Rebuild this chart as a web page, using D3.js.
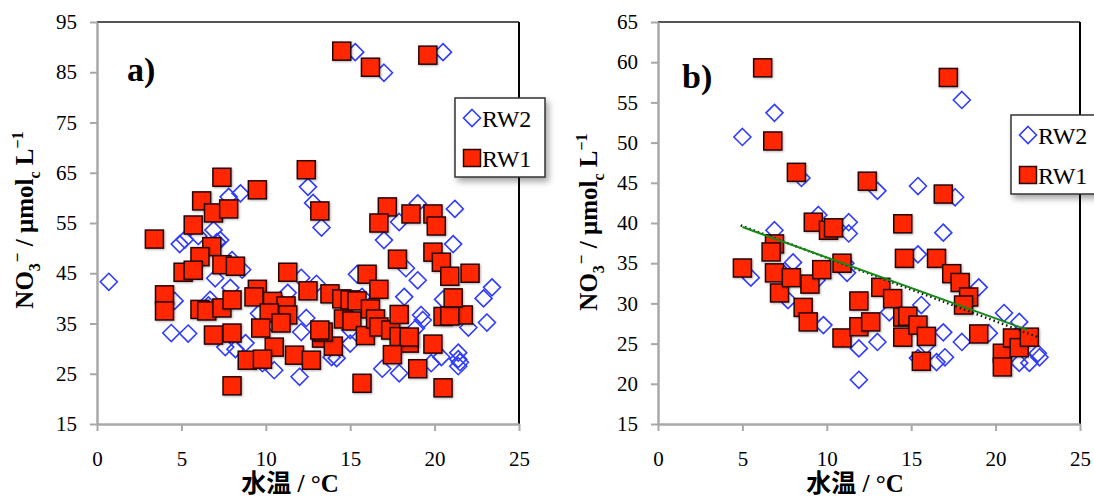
<!DOCTYPE html>
<html><head><meta charset="utf-8">
<script src="https://cdn.jsdelivr.net/npm/d3@7"></script>
<style>
body{margin:0;background:#fff;}
svg{display:block;}
</style></head>
<body>
<svg id="chart" width="1094" height="497"></svg>
<script>
// ---------- DATA ----------
const xTicks = [0, 5, 10, 15, 20, 25];
const yTicksA = [15, 25, 35, 45, 55, 65, 75, 85, 95];
const yTicksB = [15, 20, 25, 30, 35, 40, 45, 50, 55, 60, 65];
const seriesNames = ["RW2", "RW1"];
const panelLabels = ["a)", "b)"];

// Panel a) : [water temp °C, NO3- µmolc/L]
const aRW2 = [
 [15.3,89.0],[17.0,84.9],[20.5,89.0],[12.5,62.2],[12.8,59.0],[13.3,54.1],[8.5,60.9],[7.8,60.2],
 [19.0,58.9],[21.2,57.8],[17.9,55.2],[17.0,51.6],[21.1,50.8],[6.9,53.6],[7.3,51.6],[4.9,50.8],
 [5.2,51.7],[7.1,51.2],[8.0,47.6],[8.6,45.7],[0.7,43.3],[4.4,33.1],[5.4,33.0],[4.6,39.5],
 [7.0,44.0],[6.7,39.7],[7.6,30.3],[8.2,29.9],[8.8,31.1],[10.5,25.7],[12.0,24.4],[9.8,27.1],
 [12.1,33.3],[12.4,36.1],[11.3,41.1],[12.1,44.1],[13.0,42.9],[14.2,28.1],[13.9,28.3],[15.0,31.0],
 [15.0,33.7],[15.4,44.8],[15.7,40.3],[18.3,46.0],[19.0,43.6],[18.2,40.3],[19.2,36.7],[19.3,35.7],
 [18.9,34.1],[16.9,26.0],[17.9,25.1],[19.8,27.1],[20.4,28.3],[21.4,29.2],[21.4,26.5],[21.5,27.3],
 [21.4,27.9],[23.4,42.2],[22.9,40.0],[23.1,35.2],[22.0,34.2],[20.5,39.8],[10.4,35.1],[11.2,36.5],
 [7.9,42.1],[6.0,52.4],[6.6,38.6],[9.6,37.0]
];
const aRW1 = [
 [14.5,89.2],[16.2,86.0],[19.6,88.4],[7.4,64.1],[9.5,61.6],[6.2,59.4],[6.9,57.0],[7.8,57.8],
 [5.7,54.6],[3.4,51.8],[12.4,65.6],[13.2,57.4],[17.2,58.2],[16.7,55.0],[18.6,56.8],[19.9,56.8],
 [20.1,54.4],[19.9,49.2],[20.4,47.2],[17.8,47.8],[6.8,50.3],[6.1,48.3],[5.1,45.2],[5.7,45.6],
 [7.4,46.7],[8.2,46.4],[11.3,45.2],[16.0,44.8],[20.9,44.4],[22.1,45.0],[4.0,40.7],[4.0,37.5],
 [6.1,37.8],[6.5,37.5],[7.4,38.1],[8.0,39.7],[6.9,32.7],[8.0,33.1],[8.0,22.6],[12.5,41.5],
 [16.7,41.8],[13.8,40.9],[14.5,39.9],[9.5,41.8],[9.3,40.3],[10.4,39.4],[11.2,38.5],[11.3,36.7],
 [10.2,37.1],[10.9,35.1],[9.7,34.1],[10.5,30.3],[8.9,27.7],[9.8,27.9],[11.7,28.7],[12.7,27.7],
 [13.3,32.1],[14.0,30.5],[13.4,33.3],[13.2,33.7],[14.6,35.9],[15.1,35.5],[15.0,39.7],[15.4,39.5],
 [16.2,37.9],[15.9,32.6],[16.5,35.9],[16.7,34.3],[15.7,23.1],[17.4,33.7],[17.9,36.8],[17.9,32.4],
 [18.5,31.1],[18.5,32.3],[17.5,28.8],[19.0,26.0],[19.9,30.9],[20.5,22.2],[20.5,36.4],[21.7,36.7],
 [20.9,36.5],[21.1,40.1]
];

// Panel b)
const bRW2 = [
 [18.0,55.3],[6.9,53.7],[5.0,50.7],[8.5,45.6],[13.0,44.0],[15.4,44.6],[17.6,43.2],[11.3,40.1],
 [11.3,38.7],[9.5,41.0],[16.9,38.8],[6.9,39.1],[5.5,33.2],[8.0,35.1],[7.7,30.4],[9.8,27.3],
 [9.4,32.9],[11.2,33.8],[11.1,35.0],[11.9,24.4],[11.9,20.5],[13.0,25.2],[13.7,28.9],[15.4,36.1],
 [15.6,29.8],[15.4,23.2],[15.9,24.8],[16.5,22.7],[17.0,23.3],[16.9,26.4],[18.0,25.2],[19.0,32.0],
 [19.6,26.3],[20.5,28.8],[21.4,27.7],[21.4,22.6],[22.0,22.6],[22.5,23.8],[22.6,23.3],[7.4,33.8]
];
const bRW1 = [
 [6.2,59.3],[17.2,58.1],[6.8,50.2],[8.2,46.3],[12.4,45.2],[16.9,43.6],[9.2,40.1],[10.1,39.1],
 [10.4,39.4],[14.5,39.9],[5.0,34.4],[6.9,37.4],[6.7,36.4],[6.9,33.8],[7.2,31.3],[7.9,33.2],
 [9.0,32.4],[9.7,34.2],[10.9,35.0],[8.6,29.5],[8.9,27.7],[10.9,25.7],[11.9,30.3],[11.9,27.1],
 [12.6,27.7],[13.2,32.0],[13.9,30.6],[14.5,28.3],[14.8,28.4],[14.5,25.8],[15.4,27.3],[15.9,25.9],
 [15.6,22.8],[14.6,35.6],[16.5,35.6],[17.4,33.7],[17.9,32.6],[18.4,30.8],[18.1,29.8],[19.0,26.2],
 [20.4,23.8],[20.4,22.1],[21.0,25.7],[21.4,24.5],[22.0,25.8]
];
// Trend lines in panel b)
const trendSolid = [[5.0,39.5],[21.9,26.7]];
const trendDotted = [[4.9,39.7],[22.5,25.8]];

// ---------- DRAW ----------
const svg = d3.select("#chart");
const defs = svg.append("defs");
const f = defs.append("filter").attr("id","shadow").attr("x","-20%").attr("y","-20%").attr("width","150%").attr("height","160%");
f.append("feDropShadow").attr("dx",3).attr("dy",4).attr("stdDeviation",3).attr("flood-color","#000").attr("flood-opacity",0.35);
const fs = defs.append("filter").attr("id","sqshadow").attr("x","-30%").attr("y","-30%").attr("width","170%").attr("height","170%");
fs.append("feDropShadow").attr("dx",1).attr("dy",1).attr("stdDeviation",1).attr("flood-color","#000").attr("flood-opacity",0.3);

const RED = "#ff2600", BLUE = "#2f3cff";
const SERIF = "'Liberation Serif','Times New Roman',serif";
const SQ = 18, DI = 8.5;

function panel(opt){
  const g = svg.append("g");
  const x = d3.scaleLinear().domain([0,25]).range([opt.left, opt.right]);
  const y = d3.scaleLinear().domain(opt.yDomain).range([opt.bottom, opt.top]);

  // frame: top and right
  g.append("line").attr("x1",opt.left).attr("x2",opt.right).attr("y1",opt.top).attr("y2",opt.top)
    .attr("stroke","#555").attr("stroke-width",2);
  g.append("line").attr("x1",opt.right).attr("x2",opt.right).attr("y1",opt.top).attr("y2",opt.bottom)
    .attr("stroke","#000").attr("stroke-width",2);

  const ax = g.append("g").attr("transform",`translate(0,${opt.bottom})`)
    .call(d3.axisBottom(x).tickValues(xTicks).tickSize(7).tickPadding(20).tickSizeOuter(0));
  const ay = g.append("g").attr("transform",`translate(${opt.left},0)`)
    .call(d3.axisLeft(y).tickValues(opt.yTicks).tickSize(7).tickPadding(13).tickSizeOuter(0));
  [ax,ay].forEach(a=>{
    a.select(".domain").attr("stroke","#a8a8a8").attr("stroke-width",2.5);
    a.selectAll(".tick line").attr("stroke","#a8a8a8").attr("stroke-width",2);
    a.selectAll(".tick text").attr("font-family",SERIF).attr("font-size",21).attr("fill","#000");
  });

  const diamonds = g.append("g");
  diamonds.selectAll("path").data(opt.rw2).join("path")
    .attr("d",d=>{const cx=x(d[0]), cy=y(d[1]);
      return `M${cx},${cy-DI}L${cx+DI},${cy}L${cx},${cy+DI}L${cx-DI},${cy}Z`;})
    .attr("fill","none").attr("stroke",BLUE).attr("stroke-width",1.6);

  g.append("g").selectAll("rect").data(opt.rw1).join("rect")
    .attr("x",d=>x(d[0])-SQ/2).attr("y",d=>y(d[1])-SQ/2)
    .attr("width",SQ).attr("height",SQ)
    .attr("fill",RED).attr("stroke","#2a0600").attr("stroke-width",1.5)
    .attr("filter","url(#sqshadow)");

  if(opt.trends){
    const line = d3.line().x(d=>x(d[0])).y(d=>y(d[1]));
    g.append("path").attr("d",line(opt.trends.dotted)).attr("fill","none")
      .attr("stroke","#111").attr("stroke-width",2.4).attr("stroke-dasharray","1.5,3");
    g.append("path").attr("d",line(opt.trends.solid)).attr("fill","none")
      .attr("stroke","#158a15").attr("stroke-width",2);
  }

  // panel label
  g.append("text").attr("x",opt.labelX).attr("y",opt.labelY).text(opt.label)
    .attr("font-family",SERIF).attr("font-weight","bold").attr("font-size",34);

  // legend
  const lg = g.append("g").attr("transform",`translate(${opt.legX},${opt.legY})`);
  lg.append("rect").attr("x",0).attr("y",0).attr("width",opt.legW).attr("height",79)
    .attr("fill","#fff").attr("stroke","#333").attr("stroke-width",1.5).attr("filter","url(#shadow)");
  const lcx = 17;
  lg.append("path").attr("d",`M${lcx},${20-DI}L${lcx+DI},20L${lcx},${20+DI}L${lcx-DI},20Z`)
    .attr("fill","none").attr("stroke",BLUE).attr("stroke-width",1.6);
  lg.append("rect").attr("x",lcx-8.5).attr("y",60-8.5).attr("width",17).attr("height",17)
    .attr("fill",RED).attr("stroke","#2a0600").attr("stroke-width",1.5);
  lg.append("text").attr("x",27).attr("y",29).text(seriesNames[0])
    .attr("font-family",SERIF).attr("font-size",24);
  lg.append("text").attr("x",27).attr("y",69).text(seriesNames[1])
    .attr("font-family",SERIF).attr("font-size",24);

  // axis titles
  g.append("text").attr("x",opt.xTitleX).attr("y",492).attr("text-anchor","middle")
    .attr("font-family",SERIF+",'Noto Sans CJK JP'").attr("font-weight","bold").attr("font-size",25)
    .text("水温 / °C");
  const yt = g.append("text").attr("transform",`translate(${opt.yTitleX},${opt.yTitleY}) rotate(-90)`)
    .attr("text-anchor","middle").attr("font-family",SERIF).attr("font-weight","bold").attr("font-size",25);
  yt.append("tspan").text("NO");
  yt.append("tspan").text("3").attr("font-size",16).attr("dy",7);
  yt.append("tspan").text("−").attr("font-size",17).attr("dx",1).attr("dy",-17);
  yt.append("tspan").text(" / μmol").attr("dy",10);
  yt.append("tspan").text("c").attr("font-size",16).attr("dy",7);
  yt.append("tspan").text(" L").attr("dy",-7);
  yt.append("tspan").text("−1").attr("font-size",16).attr("dy",-10);
}

panel({left:97,right:519,top:22,bottom:424,yDomain:[15,95],yTicks:yTicksA,
  rw1:aRW1,rw2:aRW2,label:panelLabels[0],labelX:127,labelY:81,
  legX:455,legY:98,legW:90,xTitleX:290,yTitleX:33,yTitleY:220});
panel({left:658,right:1080,top:22,bottom:424,yDomain:[15,65],yTicks:yTicksB,
  rw1:bRW1,rw2:bRW2,label:panelLabels[1],labelX:682,labelY:88,
  legX:1011,legY:115,legW:95,xTitleX:855,yTitleX:597,yTitleY:222,
  trends:{solid:trendSolid,dotted:trendDotted}});
</script>
</body></html>
